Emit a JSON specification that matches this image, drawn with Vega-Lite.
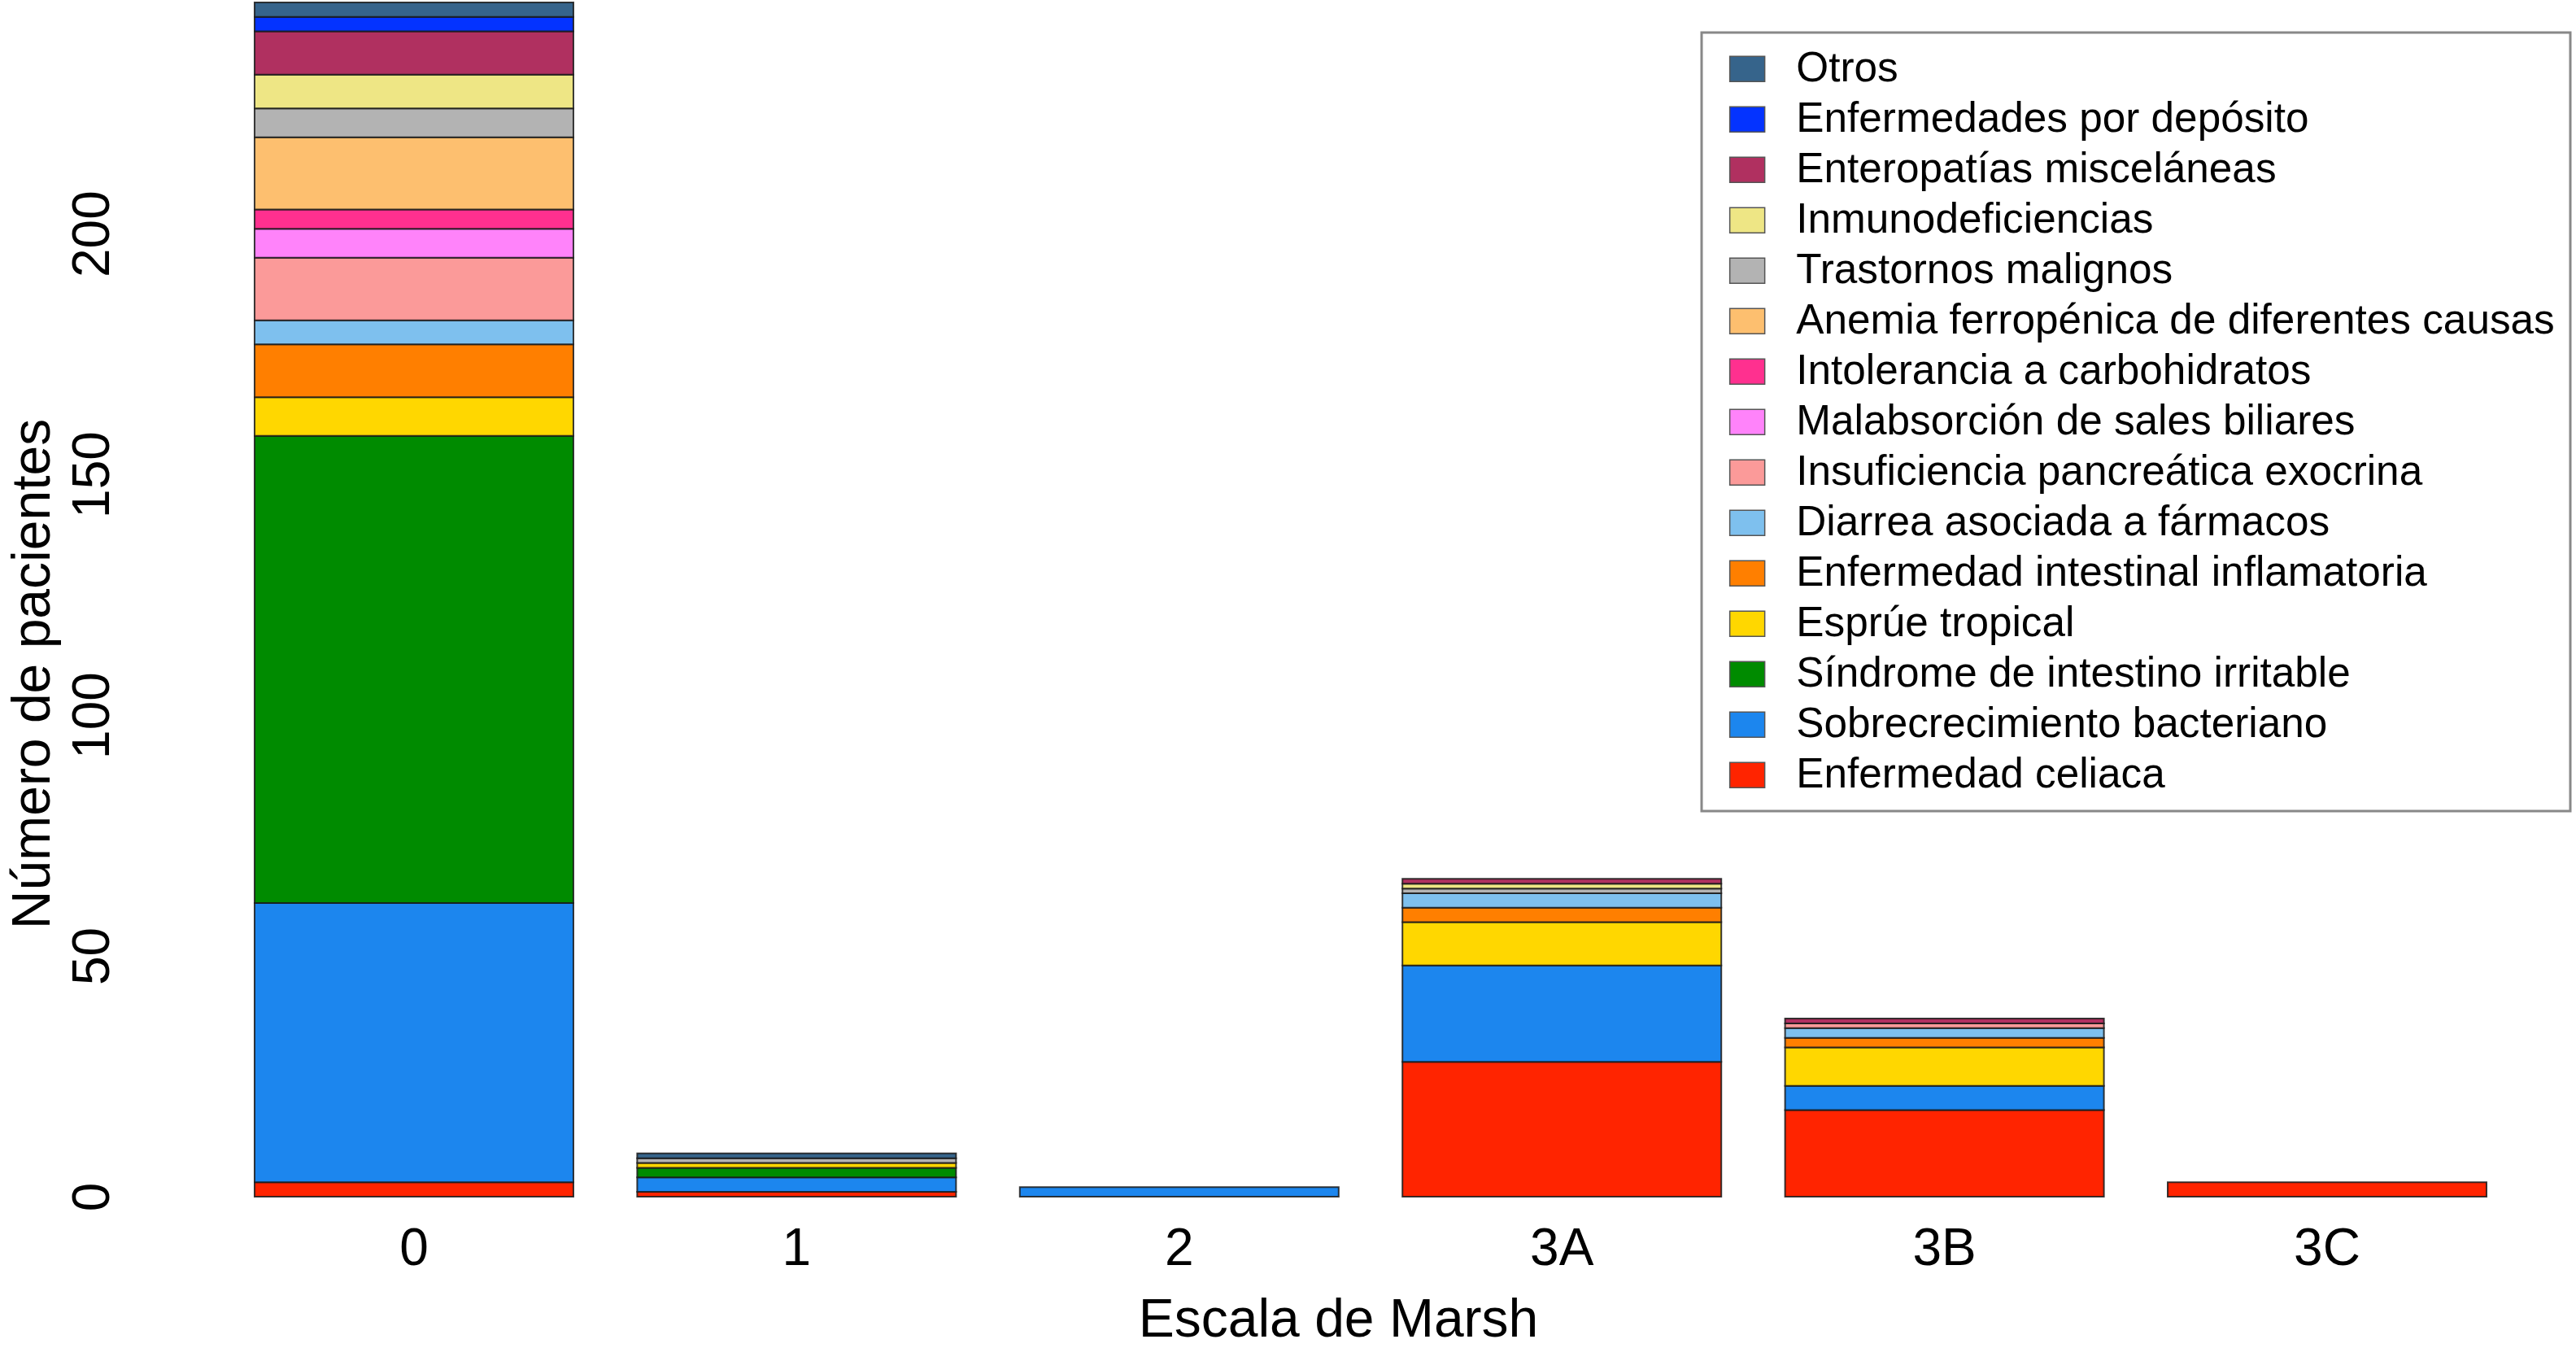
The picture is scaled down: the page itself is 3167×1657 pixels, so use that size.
{
  "$schema": "https://vega.github.io/schema/vega-lite/v6.json",
  "width": 2964,
  "height": 1471,
  "autosize": {"type": "none"},
  "padding": {"left": 203, "top": 0, "right": 0, "bottom": 186},
  "background": "white",
  "datasets": {
    "categorias": [
      {"enfermedad": "Enfermedad celiaca", "capa": 1},
      {"enfermedad": "Sobrecrecimiento bacteriano", "capa": 2},
      {"enfermedad": "Síndrome de intestino irritable", "capa": 3},
      {"enfermedad": "Esprúe tropical", "capa": 4},
      {"enfermedad": "Enfermedad intestinal inflamatoria", "capa": 5},
      {"enfermedad": "Diarrea asociada a fármacos", "capa": 6},
      {"enfermedad": "Insuficiencia pancreática exocrina", "capa": 7},
      {"enfermedad": "Malabsorción de sales biliares", "capa": 8},
      {"enfermedad": "Intolerancia a carbohidratos", "capa": 9},
      {"enfermedad": "Anemia ferropénica de diferentes causas", "capa": 10},
      {"enfermedad": "Trastornos malignos", "capa": 11},
      {"enfermedad": "Inmunodeficiencias", "capa": 12},
      {"enfermedad": "Enteropatías misceláneas", "capa": 13},
      {"enfermedad": "Enfermedades por depósito", "capa": 14},
      {"enfermedad": "Otros", "capa": 15}
    ],
    "pacientes": [
      {"marsh": "0", "enfermedad": "Enfermedad celiaca", "n": 3},
      {"marsh": "0", "enfermedad": "Sobrecrecimiento bacteriano", "n": 58},
      {"marsh": "0", "enfermedad": "Síndrome de intestino irritable", "n": 97},
      {"marsh": "0", "enfermedad": "Esprúe tropical", "n": 8},
      {"marsh": "0", "enfermedad": "Enfermedad intestinal inflamatoria", "n": 11},
      {"marsh": "0", "enfermedad": "Diarrea asociada a fármacos", "n": 5},
      {"marsh": "0", "enfermedad": "Insuficiencia pancreática exocrina", "n": 13},
      {"marsh": "0", "enfermedad": "Malabsorción de sales biliares", "n": 6},
      {"marsh": "0", "enfermedad": "Intolerancia a carbohidratos", "n": 4},
      {"marsh": "0", "enfermedad": "Anemia ferropénica de diferentes causas", "n": 15},
      {"marsh": "0", "enfermedad": "Trastornos malignos", "n": 6},
      {"marsh": "0", "enfermedad": "Inmunodeficiencias", "n": 7},
      {"marsh": "0", "enfermedad": "Enteropatías misceláneas", "n": 9},
      {"marsh": "0", "enfermedad": "Enfermedades por depósito", "n": 3},
      {"marsh": "0", "enfermedad": "Otros", "n": 3},
      {"marsh": "1", "enfermedad": "Enfermedad celiaca", "n": 1},
      {"marsh": "1", "enfermedad": "Sobrecrecimiento bacteriano", "n": 3},
      {"marsh": "1", "enfermedad": "Síndrome de intestino irritable", "n": 2},
      {"marsh": "1", "enfermedad": "Esprúe tropical", "n": 1},
      {"marsh": "1", "enfermedad": "Trastornos malignos", "n": 1},
      {"marsh": "1", "enfermedad": "Otros", "n": 1},
      {"marsh": "2", "enfermedad": "Sobrecrecimiento bacteriano", "n": 2},
      {"marsh": "3A", "enfermedad": "Enfermedad celiaca", "n": 28},
      {"marsh": "3A", "enfermedad": "Sobrecrecimiento bacteriano", "n": 20},
      {"marsh": "3A", "enfermedad": "Esprúe tropical", "n": 9},
      {"marsh": "3A", "enfermedad": "Enfermedad intestinal inflamatoria", "n": 3},
      {"marsh": "3A", "enfermedad": "Diarrea asociada a fármacos", "n": 3},
      {"marsh": "3A", "enfermedad": "Trastornos malignos", "n": 1},
      {"marsh": "3A", "enfermedad": "Inmunodeficiencias", "n": 1},
      {"marsh": "3A", "enfermedad": "Enteropatías misceláneas", "n": 1},
      {"marsh": "3B", "enfermedad": "Enfermedad celiaca", "n": 18},
      {"marsh": "3B", "enfermedad": "Sobrecrecimiento bacteriano", "n": 5},
      {"marsh": "3B", "enfermedad": "Esprúe tropical", "n": 8},
      {"marsh": "3B", "enfermedad": "Enfermedad intestinal inflamatoria", "n": 2},
      {"marsh": "3B", "enfermedad": "Diarrea asociada a fármacos", "n": 2},
      {"marsh": "3B", "enfermedad": "Insuficiencia pancreática exocrina", "n": 1},
      {"marsh": "3B", "enfermedad": "Enteropatías misceláneas", "n": 1},
      {"marsh": "3C", "enfermedad": "Enfermedad celiaca", "n": 3}
    ]
  },
  "data": {"name": "pacientes"},
  "transform": [
    {
      "lookup": "enfermedad",
      "from": {"data": {"name": "categorias"}, "key": "enfermedad", "fields": ["capa"]}
    }
  ],
  "mark": {"type": "bar", "stroke": "#1a1a1a", "strokeWidth": 2, "strokeOpacity": 0.85},
  "encoding": {
    "x": {
      "field": "marsh",
      "type": "nominal",
      "sort": ["0", "1", "2", "3A", "3B", "3C"],
      "scale": {"paddingInner": 0.16667, "paddingOuter": 0.2338},
      "axis": {
        "labelAngle": 0,
        "labelFont": "Liberation Sans",
        "labelFontSize": 64,
        "labelColor": "black",
        "labelPadding": 83,
        "labelBaseline": "alphabetic",
        "ticks": false,
        "tickSize": 0,
        "domain": false,
        "title": "Escala de Marsh",
        "titleFont": "Liberation Sans",
        "titleFontSize": 66,
        "titleFontWeight": "normal",
        "titleColor": "black",
        "titleX": 1442,
        "titleY": 171,
        "titleAlign": "center",
        "titleBaseline": "alphabetic"
      }
    },
    "y": {
      "field": "n",
      "type": "quantitative",
      "stack": "zero",
      "scale": {"domain": [0, 248.5], "nice": false, "zero": true},
      "axis": {
        "values": [0, 50, 100, 150, 200],
        "labelAngle": -90,
        "labelAlign": "center",
        "labelBaseline": "alphabetic",
        "labelPadding": 70,
        "labelFont": "Liberation Sans",
        "labelFontSize": 64,
        "labelColor": "black",
        "labelFlush": false,
        "labelOverlap": false,
        "ticks": false,
        "tickSize": 0,
        "domain": false,
        "grid": false,
        "title": "Número de pacientes",
        "titleFont": "Liberation Sans",
        "titleFontSize": 66,
        "titleFontWeight": "normal",
        "titleColor": "black",
        "titleAngle": -90,
        "titleX": -143,
        "titleY": 828,
        "titleAlign": "center",
        "titleBaseline": "alphabetic"
      }
    },
    "order": {"field": "capa", "type": "quantitative", "sort": "ascending"},
    "color": {
      "field": "enfermedad",
      "type": "nominal",
      "scale": {
        "domain": [
          "Otros",
          "Enfermedades por depósito",
          "Enteropatías misceláneas",
          "Inmunodeficiencias",
          "Trastornos malignos",
          "Anemia ferropénica de diferentes causas",
          "Intolerancia a carbohidratos",
          "Malabsorción de sales biliares",
          "Insuficiencia pancreática exocrina",
          "Diarrea asociada a fármacos",
          "Enfermedad intestinal inflamatoria",
          "Esprúe tropical",
          "Síndrome de intestino irritable",
          "Sobrecrecimiento bacteriano",
          "Enfermedad celiaca"
        ],
        "range": [
          "#36648B",
          "#0433FF",
          "#B03060",
          "#EEE685",
          "#B3B3B3",
          "#FDBF6F",
          "#FF308F",
          "#FF83FA",
          "#FB9A99",
          "#7EC0EE",
          "#FF7F00",
          "#FFD700",
          "#008B00",
          "#1C86EE",
          "#FF2400"
        ]
      },
      "legend": {
        "orient": "none",
        "legendX": 1889,
        "legendY": 40,
        "title": null,
        "symbolType": "M-1,-0.72H1V0.72H-1Z",
        "symbolSize": 1849,
        "symbolStrokeColor": "#555555",
        "symbolStrokeWidth": 1.5,
        "symbolOpacity": 1,
        "symbolOffset": 11.5,
        "labelFont": "Liberation Sans",
        "labelFontSize": 51.3,
        "labelColor": "black",
        "labelOffset": 34.5,
        "labelLimit": 2000,
        "rowPadding": 10,
        "padding": 19,
        "strokeColor": "#888888",
        "fillColor": "white"
      }
    }
  },
  "config": {
    "view": {"stroke": null},
    "legend": {"strokeWidth": 3}
  }
}
